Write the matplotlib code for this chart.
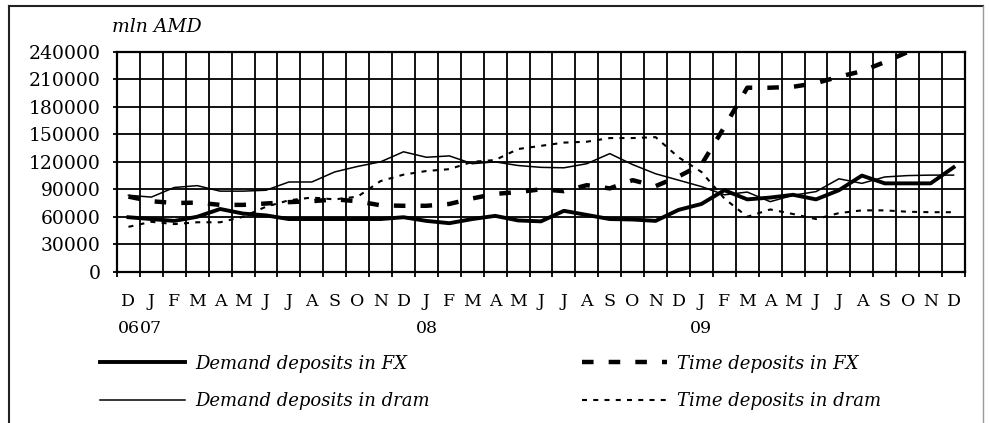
import matplotlib
matplotlib.use("Agg")
import matplotlib.pyplot as plt
import numpy as np
from matplotlib.lines import Line2D

plt.rcParams["font.family"] = "DejaVu Serif"

# month initials Dec 2006 .. Dec 2009, year shown under some of them
months = ["D", "J", "F", "M", "A", "M", "J", "J", "A", "S", "O", "N",
          "D", "J", "F", "M", "A", "M", "J", "J", "A", "S", "O", "N",
          "D", "J", "F", "M", "A", "M", "J", "J", "A", "S", "O", "N", "D"]
years = {0: "06", 1: "07", 13: "08", 25: "09"}

# mln AMD
demand_fx = [59500, 57500, 55500, 60000, 68500, 63500, 61500, 57500, 57500, 57500,
             57500, 57500, 59500, 55500, 53000, 57500, 61000, 56000, 55000, 66500,
             62000, 57500, 57000, 55500, 67500, 74000, 89000, 79000, 81000, 84000,
             79000, 89000, 105000, 96500, 96500, 96500, 114000]
demand_dram = [83500, 81500, 92000, 94000, 88000, 88000, 89000, 98000, 98000, 109000,
               115000, 120000, 131000, 125000, 126500, 118000, 120000, 116000, 114000, 113500,
               118000, 129000, 117000, 107000, 100000, 93000, 84000, 87000, 76500, 83500,
               87500, 101500, 96500, 103500, 105000, 105500, 105500]
time_fx = [82000, 77000, 75000, 75500, 73000, 73000, 74500, 76000, 77000, 79000,
           77000, 72500, 72000, 72000, 74000, 80000, 85000, 87000, 90000, 88000,
           94500, 91000, 100000, 93500, 104000, 117000, 158000, 201000, 201000, 202000,
           206000, 213000, 219000, 229000, 240000, np.nan, np.nan]
time_dram = [49000, 54500, 52000, 54000, 54000, 60000, 71000, 78000, 81000, 79000,
             82000, 99000, 106000, 110000, 112000, 120000, 122000, 134000, 137500, 141000,
             142000, 146000, 146000, 147000, 125000, 109000, 80000, 60000, 68000, 63000,
             57500, 64000, 67000, 67000, 65500, 65000, 65000]

W, H = 989, 423
fig = plt.figure(figsize=(W / 100, H / 100), dpi=100)
fig.set_facecolor("white")
ax = fig.add_axes([117 / W, 1 - 271.7 / H, (965 - 117) / W, (271.7 - 52) / H])

x = np.arange(len(months))
l1, = ax.plot(x, demand_fx, color="black", lw=2.8, solid_joinstyle="round",
              label="Demand deposits in FX")
l2, = ax.plot(x, demand_dram, color="black", lw=1.1, solid_joinstyle="round",
              label="Demand deposits in dram")
l3, = ax.plot(x, time_fx, color="black", lw=3.2, dashes=(2.6, 3.4),
              dash_capstyle="butt", label="Time deposits in FX")
l4, = ax.plot(x, time_dram, color="black", lw=1.5, dashes=(2.4, 3.0),
              dash_capstyle="butt", label="Time deposits in dram")

ax.set_xlim(-0.5, len(months) - 0.5)
ax.set_ylim(0, 240000)
ax.set_yticks(range(0, 240001, 30000))
ax.set_yticklabels([str(v) for v in range(0, 240001, 30000)], fontsize=13.5)
ax.set_xticks(x)
ax.set_xticklabels([m + ("\n" + years[i] if i in years else "") for i, m in enumerate(months)],
                   fontsize=12.5, linespacing=1.8)
ax.set_xticks(np.arange(-0.5, len(months), 1), minor=True)
ax.tick_params(axis="x", which="major", length=0, pad=15)
ax.tick_params(axis="x", which="minor", length=3.5, width=1.3, direction="out")
ax.tick_params(axis="y", length=3, width=1.3, pad=9)

ax.set_axisbelow(True)
ax.yaxis.grid(True, color="black", lw=1.3)
ax.xaxis.grid(True, which="minor", color="black", lw=1.3)
for s in ax.spines.values():
    s.set_linewidth(1.6)

fig.text(112 / W, 1 - 27 / H, "mln AMD", style="italic", fontsize=13.5,
         ha="left", va="center")

leg_kw = dict(loc="center left", frameon=False, fontsize=13, borderpad=0,
              borderaxespad=0, handlelength=4.7, handletextpad=0.55, labelspacing=1.1)
leg1 = fig.legend(handles=[l1, l2], bbox_to_anchor=(100 / W, 1 - 382.5 / H), **leg_kw)
leg2 = fig.legend(handles=[l3, l4], bbox_to_anchor=(582 / W, 1 - 382.5 / H), **leg_kw)
for leg in (leg1, leg2):
    for t in leg.get_texts():
        t.set_style("italic")

# chart-area border (bottom edge lies outside the picture)
fig.add_artist(Line2D([9 / W, 9 / W], [0, 1 - 6 / H], transform=fig.transFigure,
                      color="#222222", lw=1.5))
fig.add_artist(Line2D([9 / W, 983 / W], [1 - 6 / H, 1 - 6 / H], transform=fig.transFigure,
                      color="#222222", lw=1.5))
fig.add_artist(Line2D([983 / W, 983 / W], [0, 1 - 6 / H], transform=fig.transFigure,
                      color="#999999", lw=1.0))

fig.savefig("out.png", dpi=100)
